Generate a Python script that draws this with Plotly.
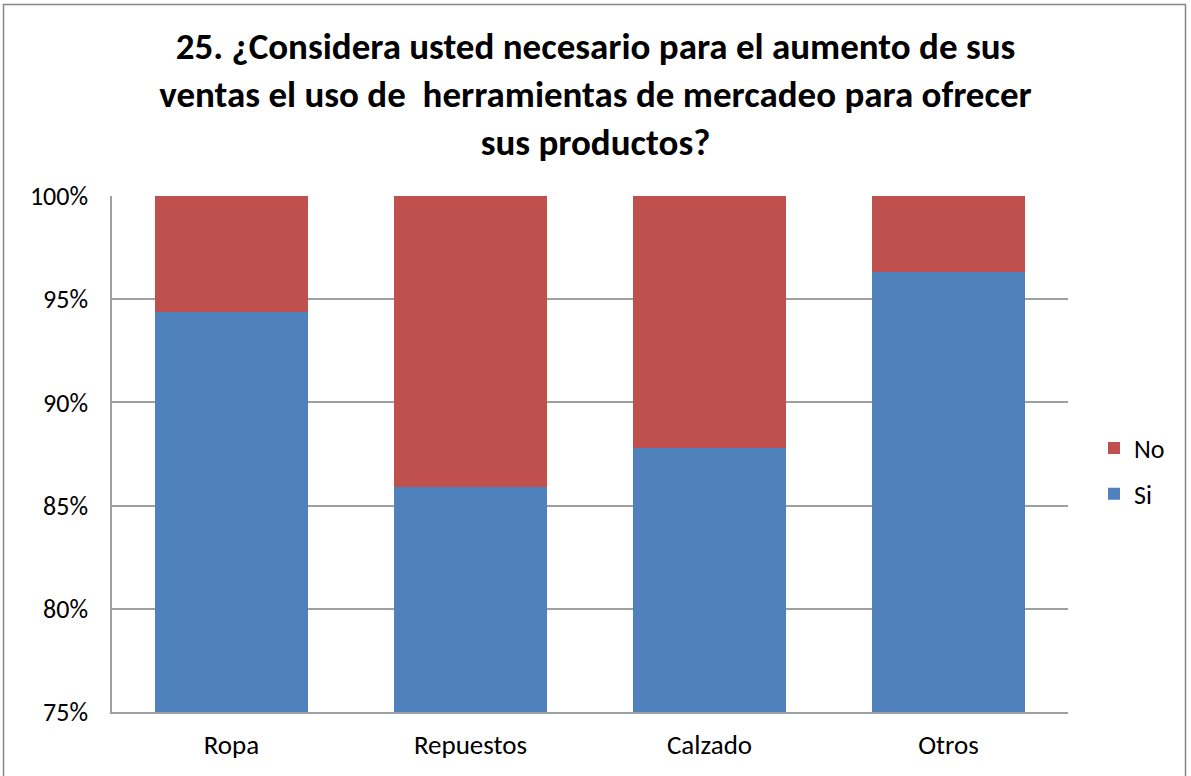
import plotly.graph_objects as go

categories = ["Ropa", "Repuestos", "Calzado", "Otros"]
si_values = [0.944, 0.859, 0.878, 0.963]
no_values = [round(1 - v, 3) for v in si_values]
title_text = ("25. ¿Considera usted necesario para el aumento de sus<br>"
              "ventas el uso de  herramientas de mercadeo para ofrecer<br>"
              "sus productos?")

W, H = 1191, 776
L, R, T, B = 112, 1068, 196, 712
FONT = "Carlito, Calibri, 'Liberation Sans Narrow', 'Open Sans', sans-serif"

fig = go.Figure()
fig.add_trace(go.Bar(name="Si", x=categories, y=si_values, marker_color="#4F81BD",
                     marker_line_width=0, legendgroup="si", legendrank=2))
fig.add_trace(go.Bar(name="No", x=categories, y=no_values, marker_color="#C0504D",
                     marker_line_width=0, legendgroup="no", legendrank=1))

pw, ph = R - L, B - T
fig.add_shape(type="rect", xref="paper", yref="paper",
              x0=(3.5 - L) / pw, x1=(1185.5 - L) / pw,
              y0=(B - 780) / ph, y1=(B - 4.5) / ph,
              line=dict(color="#868686", width=1.5), fillcolor="rgba(0,0,0,0)", layer="below")

fig.update_layout(
    width=W, height=H,
    barmode="stack", bargap=0.36,
    margin=dict(l=L, r=W - R, t=T, b=H - B, pad=0),
    paper_bgcolor="white", plot_bgcolor="white",
    font=dict(family=FONT, color="#000000", size=26),
    title=dict(text=title_text, x=0.5, xanchor="center", y=1 - 59 / H, yanchor="middle",
               font=dict(family=FONT, size=37, color="#000000", weight="bold")),
    xaxis=dict(showline=True, linecolor="#A0A0A0", linewidth=1.5, ticks="",
               tickfont=dict(size=27), showgrid=False, ticklabelstandoff=8),
    yaxis=dict(range=[0.75, 1.0], dtick=0.05, tickformat=".0%", showgrid=True,
               gridcolor="#A0A0A0", gridwidth=1.5, showline=True, linecolor="#A0A0A0",
               linewidth=1.5, ticks="", tickfont=dict(size=26), ticklabelstandoff=17,
               zeroline=False),
    legend=dict(traceorder="grouped", x=(1094 - L) / pw, xanchor="left",
                y=(B - 471) / ph, yanchor="middle", font=dict(size=26),
                itemwidth=30, tracegroupgap=9, bgcolor="rgba(0,0,0,0)"),
    showlegend=True,
)

fig.write_html("out.html", config={"displayModeBar": False},
               post_script="document.body.style.margin='0';")
